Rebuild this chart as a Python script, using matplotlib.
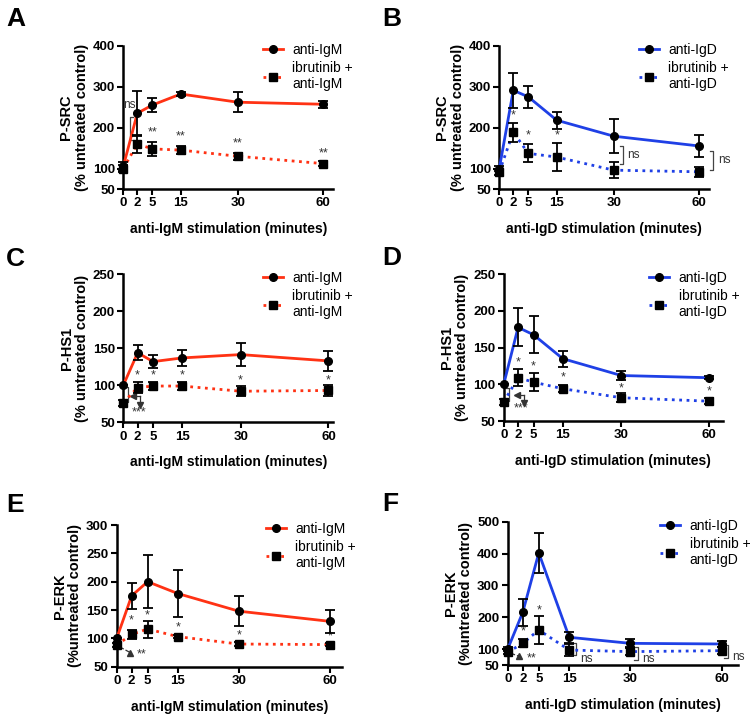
import numpy as np
import matplotlib
matplotlib.use('Agg')
import matplotlib.pyplot as plt

plt.rcParams['font.family'] = ['Liberation Sans', 'DejaVu Sans']

RED = '#ff3214'
BLUE = '#1f40e6'

# time points (minutes)
TIME = [0, 2, 5, 15, 30, 60]

# P-SRC, anti-IgM
A_IGM = [105, 235, 255, 282, 262, 257]
A_IGM_ERR = [12, 55, 18, 5, 24, 8]
A_IBR = [100, 160, 148, 145, 130, 112]
A_IBR_ERR = [8, 22, 17, 10, 8, 6]

# P-SRC, anti-IgD
B_IGD = [100, 291, 275, 218, 179, 155]
B_IGD_ERR = [5, 42, 27, 21, 42, 26]
B_IBR = [92, 189, 137, 128, 96, 92]
B_IBR_ERR = [8, 23, 22, 34, 20, 12]

# P-HS1, anti-IgM
C_IGM = [100, 144, 132, 137, 141.5, 133]
C_IGM_ERR = [0, 10, 9, 11, 16, 13]
C_IBR = [76.5, 97, 99, 99, 92, 93]
C_IBR_ERR = [4, 7, 5, 6, 7, 8]

# P-HS1, anti-IgD
D_IGD = [100, 177.6, 167.6, 135, 112, 109]
D_IGD_ERR = [0, 26, 25, 11, 6, 2]
D_IBR = [76, 109, 103, 94, 81.7, 77]
D_IBR_ERR = [4, 11.5, 12, 5, 6, 4]

# P-ERK, anti-IgM
E_IGM = [100, 175, 200, 179, 148, 130]
E_IGM_ERR = [0, 23, 47, 41, 26, 20]
E_IBR = [88, 107, 116.5, 103, 90, 89]
E_IBR_ERR = [4, 8, 15, 3, 4, 3]

# P-ERK, anti-IgD
F_IGD = [100, 215, 402, 137, 118, 116]
F_IGD_ERR = [5, 43, 62, 18, 13, 10]
F_IBR = [90, 118, 160, 97, 92, 95]
F_IBR_ERR = [6, 13, 45, 18, 12, 12]

# y ticks
A_YTICKS = [50, 100, 200, 300, 400]
C_YTICKS = [50, 100, 150, 200, 250]
E_YTICKS = [50, 100, 150, 200, 250, 300]
F_YTICKS = [50, 100, 200, 300, 400, 500]

# significance marks (time, value, text)
A_STARS = [(5, 187, '**'), (15, 179, '**'), (30, 161, '**'), (60, 137, '**')]
B_STARS = [(2, 230, '*'), (5, 181, '*'), (15, 181, '*')]
C_STARS = [(2, 113, '*'), (5, 113, '*'), (15, 113, '*'), (30, 107, '*'), (60, 107, '*')]
D_STARS = [(2, 130, '*'), (5, 124, '*'), (15, 109, '*'), (30, 95, '*'), (60, 90, '*')]
E_STARS = [(2, 131, '*'), (5, 141, '*'), (15, 119, '*'), (30, 106, '*'), (60, 103, '*')]
F_STARS = [(2, 154, '*'), (5, 222, '*')]

# the x axis of the original is not linear: place ticks as drawn
AXIS_FRAC = [0, 0.07, 0.145, 0.287, 0.572, 1.0]


def fwd(x):
    x = np.asarray(x, float)
    lo = AXIS_FRAC[1] / TIME[1]
    hi = (AXIS_FRAC[-1] - AXIS_FRAC[-2]) / (TIME[-1] - TIME[-2])
    out = np.interp(x, TIME, AXIS_FRAC)
    out = np.where(x < 0, x * lo, out)
    out = np.where(x > TIME[-1], AXIS_FRAC[-1] + (x - TIME[-1]) * hi, out)
    return out


def inv(y):
    y = np.asarray(y, float)
    lo = AXIS_FRAC[1] / TIME[1]
    hi = (AXIS_FRAC[-1] - AXIS_FRAC[-2]) / (TIME[-1] - TIME[-2])
    out = np.interp(y, AXIS_FRAC, TIME)
    out = np.where(y < 0, y / lo, out)
    out = np.where(y > AXIS_FRAC[-1], TIME[-1] + (y - AXIS_FRAC[-1]) / hi, out)
    return out


def bracket(ax, x, y0, y1, side=-1, text=None, tx=None, ty=None):
    """Vertical bracket, ticks point to `side` (-1 left, +1 right)."""
    xt = float(inv(fwd(x) + side * 0.015))
    ax.plot([xt, x, x, xt], [y0, y0, y1, y1], color='#444444', lw=0.9,
            clip_on=False)
    if text:
        ax.text(tx, ty, text, fontsize=8.5, color='#333333', ha='center',
                va='center', clip_on=False)


def panel(rect, xmax, ylim, yticks, ctrl, ctrl_err, ibr, ibr_err, color,
          stim, ylab, stars, letter, letter_xy):
    ax = fig.add_axes(rect)
    ax.set_xscale('function', functions=(fwd, inv))
    l1, = ax.plot(TIME, ctrl, color=color, lw=2, marker='o', ms=5.5,
                  mfc='k', mec='k', clip_on=False, zorder=3)
    l2, = ax.plot(TIME, ibr, color=color, lw=2, ls=':', marker='s', ms=5.5,
                  mfc='k', mec='k', clip_on=False, zorder=3)
    for y, e in [(ctrl, ctrl_err), (ibr, ibr_err)]:
        ax.errorbar(TIME, y, yerr=e, fmt='none', ecolor='k', elinewidth=1.3,
                    capsize=3.5, capthick=1.3, clip_on=False, zorder=4)
    for x, y, s in stars:
        ax.text(x, y, s, fontsize=9, color='#333333', ha='center', va='center')
    ax.set_xlim(0, float(inv(xmax)))
    ax.set_ylim(*ylim)
    ax.set_xticks(TIME)
    ax.set_xticklabels([str(t) for t in TIME])
    ax.minorticks_off()
    ax.set_yticks(yticks)
    for s in ['top', 'right']:
        ax.spines[s].set_visible(False)
    for s in ['left', 'bottom']:
        ax.spines[s].set_linewidth(1.8)
    ax.tick_params(direction='out', length=4, width=1.5, labelsize=9.5,
                   pad=2)
    for lab in ax.get_xticklabels() + ax.get_yticklabels():
        lab.set_fontweight('bold')
    ax.set_xlabel(f'{stim} stimulation (minutes)', fontsize=10,
                  fontweight='bold', labelpad=9)
    ax.set_ylabel(ylab, fontsize=10.5, fontweight='bold', labelpad=3,
                  linespacing=1.1)
    ax.legend([l1, l2], [stim, f'ibrutinib +\n{stim}'], loc='upper left',
              bbox_to_anchor=(0.64, 1.06), frameon=False, fontsize=10,
              handlelength=1.4, handletextpad=0.7, labelspacing=0.3,
              borderaxespad=0)
    fig.text(letter_xy[0], letter_xy[1], letter, fontsize=19,
             fontweight='bold', va='top', ha='left')
    return ax


W, H = 753, 716
fig = plt.figure(figsize=(W / 100, H / 100), dpi=100)


def make_rect(x0, xend, top, bottom):
    return [x0 / W, 1 - bottom / H, (xend - x0) / W, (bottom - top) / H]


axA = panel(make_rect(123.3, 333.3, 45.7, 189), 1.05, (50, 400),
            A_YTICKS, A_IGM, A_IGM_ERR, A_IBR, A_IBR_ERR, RED, 'anti-IgM',
            'P-SRC\n(% untreated control)', A_STARS, 'A', (0.008, 0.99))
bracket(axA, 0.96, 170, 226, side=1, text='ns', tx=0.9, ty=256)

axB = panel(make_rect(499.3, 709.3, 45.7, 189), 1.05, (50, 400),
            A_YTICKS, B_IGD, B_IGD_ERR, B_IBR, B_IBR_ERR, BLUE, 'anti-IgD',
            'P-SRC\n(% untreated control)', B_STARS, 'B', (0.508, 0.99))
bracket(axB, 33.2, 155, 110, side=-1, text='ns', tx=36.8, ty=133)
bracket(axB, 64.9, 142, 96, side=-1, text='ns', tx=68.8, ty=122)

axC = panel(make_rect(123.3, 333.3, 274.3, 422.3), 1.024, (50, 250),
            C_YTICKS, C_IGM, C_IGM_ERR, C_IBR, C_IBR_ERR, RED, 'anti-IgM',
            'P-HS1\n(% untreated control)', C_STARS, 'C', (0.008, 0.655))
bracket(axC, 0.7, 98, 77, side=-1)
axC.plot([2.5, 1.4], [85, 85], color='#333333', lw=0.9, marker='<',
         markevery=[1], ms=4)
axC.plot([2.5, 2.5], [85, 74], color='#333333', lw=0.9, marker='v',
         markevery=[1], ms=4)
axC.text(2.3, 63, '***', fontsize=9, color='#333333', ha='center', va='center')

axD = panel(make_rect(503.7, 722.7, 274.3, 421), 1.065, (50, 250),
            C_YTICKS, D_IGD, D_IGD_ERR, D_IBR, D_IBR_ERR, BLUE, 'anti-IgD',
            'P-HS1\n(% untreated control)', D_STARS, 'D', (0.508, 0.657))
bracket(axD, 0.74, 95, 77, side=-1)
axD.plot([3.1, 1.9], [86, 86], color='#333333', lw=0.9, marker='<',
         markevery=[1], ms=4)
axD.plot([3.1, 3.1], [86, 74], color='#333333', lw=0.9, marker='v',
         markevery=[1], ms=4)
axD.text(2.5, 67, '***', fontsize=9, color='#333333', ha='center', va='center')

axE = panel(make_rect(116.7, 341.7, 525, 666.7), 1.055, (50, 300),
            E_YTICKS, E_IGM, E_IGM_ERR, E_IBR, E_IBR_ERR, RED, 'anti-IgM',
            'P-ERK\n(%untreated control)', E_STARS, 'E', (0.008, 0.312))
axE.plot([0.4, 1.8], [85, 75], color='#333333', lw=0.9, ls='--', marker='^',
         markevery=[1], ms=4.5, clip_on=False)
axE.text(3.8, 71, '**', fontsize=9, color='#333333', ha='center', va='center')

axF = panel(make_rect(507.7, 737.7, 521.7, 665), 1.073, (50, 500),
            F_YTICKS, F_IGD, F_IGD_ERR, F_IBR, F_IBR_ERR, BLUE, 'anti-IgD',
            'P-ERK\n(%untreated control)', F_STARS, 'F', (0.508, 0.313))
axF.plot([0.4, 1.55], [87, 77], color='#333333', lw=0.9, ls='--', marker='^',
         markevery=[1], ms=4.5, clip_on=False)
axF.text(3.7, 72, '**', fontsize=9, color='#333333', ha='center', va='center')
bracket(axF, 16.7, 118, 81, side=-1, text='ns', tx=19.3, ty=70)
bracket(axF, 32.4, 107, 66, side=-1, text='ns', tx=35.8, ty=68)
bracket(axF, 61.8, 113, 71, side=-1, text='ns', tx=65.3, ty=76)

fig.savefig('out.png', dpi=100)
